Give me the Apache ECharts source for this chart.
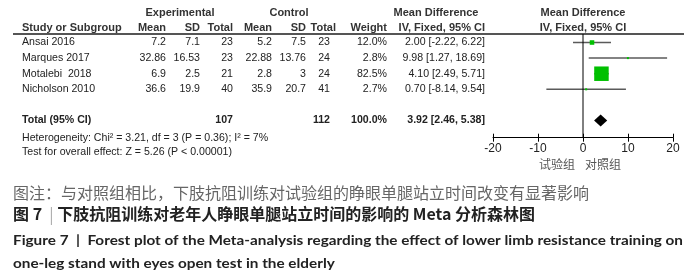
<!DOCTYPE html>
<html>
<head>
<meta charset="utf-8">
<script src="https://cdn.jsdelivr.net/npm/echarts@6/dist/echarts.min.js"></script>
<style>
  html, body { margin: 0; padding: 0; background: #fff; }
  #chart { width: 700px; height: 280px; }
</style>
</head>
<body>
<div id="chart"></div>
<script>
// study data
const studies = ['Ansai 2016', 'Marques 2017', 'Motalebi  2018', 'Nicholson 2010'];
const expMean = [7.2, 32.86, 6.9, 36.6];
const expSD = [7.1, 16.53, 2.5, 19.9];
const expN = [23, 23, 21, 40];
const ctlMean = [5.2, 22.88, 2.8, 35.9];
const ctlSD = [7.5, 13.76, 3, 20.7];
const ctlN = [23, 24, 24, 41];
const weights = [12.0, 2.8, 82.5, 2.7];
const md = [2.00, 9.98, 4.10, 0.70];
const ciLow = [-2.22, 1.27, 2.49, -8.14];
const ciHigh = [6.22, 18.69, 5.71, 9.54];

// pooled result
const totalN = [107, 112];
const totalWeight = 100.0;
const totalMD = [3.92, 2.46, 5.38];
const heteroText = 'Heterogeneity: Chi² = 3.21, df = 3 (P = 0.36); I² = 7%';
const effectText = 'Test for overall effect: Z = 5.26 (P < 0.00001)';

const xTicks = [-20, -10, 0, 10, 20];
const sideLabels = ['试验组', '对照组'];

const TOTAL_ROW = 5;
const Y_MIN = -0.545, Y_MAX = 6.1;

// column anchors (right aligned unless noted)
const COL = { name: 22, eM: 166, eSD: 200, eN: 233, cM: 272, cSD: 306, cN: 330, w: 387, ci: 485 };
const TXT = '10.6px "Liberation Sans", Arial, sans-serif';
const TXTB = 'bold 10.6px "Liberation Sans", Arial, sans-serif';
const HEADB = 'bold 11px "Liberation Sans", Arial, sans-serif';

function cell(text, x, y, align, font, fill) {
  return {
    type: 'text', x: x, y: y,
    style: { text: String(text), font: font || TXT, fill: fill || '#222', align: align || 'right', verticalAlign: 'middle' }
  };
}

function fmtCI(m, lo, hi) {
  return m.toFixed(2) + ' [' + lo.toFixed(2) + ', ' + hi.toFixed(2) + ']';
}

const studyData = studies.map((s, i) => [md[i], i, ciLow[i], ciHigh[i], weights[i]]);

function renderStudy(params, api) {
  const i = params.dataIndex;
  const c = api.coord([api.value(0), api.value(1)]);
  const lo = api.coord([api.value(2), api.value(1)]);
  const hi = api.coord([api.value(3), api.value(1)]);
  const y = c[1];
  const s = Math.max(2, 14.5 * Math.pow(api.value(4) / 82.5, 0.6));
  return {
    type: 'group',
    children: [
      { type: 'line', shape: { x1: lo[0], y1: y, x2: hi[0], y2: y }, style: { stroke: '#5a5a5a', lineWidth: 1.5 } },
      { type: 'rect', shape: { x: c[0] - s / 2, y: y - s / 2, width: s, height: s }, style: { fill: '#00c000' } },
      cell(studies[i], COL.name, y, 'left'),
      cell(expMean[i], COL.eM, y),
      cell(expSD[i], COL.eSD, y),
      cell(expN[i], COL.eN, y),
      cell(ctlMean[i], COL.cM, y),
      cell(ctlSD[i], COL.cSD, y),
      cell(ctlN[i], COL.cN, y),
      cell(weights[i].toFixed(1) + '%', COL.w, y),
      cell(fmtCI(md[i], ciLow[i], ciHigh[i]), COL.ci, y)
    ]
  };
}

function renderTotal(params, api) {
  const c = api.coord([api.value(0), api.value(1)]);
  const lo = api.coord([api.value(2), api.value(1)]);
  const hi = api.coord([api.value(3), api.value(1)]);
  const y = c[1];
  const h = 6;
  return {
    type: 'group',
    children: [
      { type: 'polygon', shape: { points: [[lo[0], y], [c[0], y - h], [hi[0], y], [c[0], y + h]] }, style: { fill: '#000' } },
      cell('Total (95% CI)', COL.name, y, 'left', TXTB),
      cell(totalN[0], COL.eN, y, 'right', TXTB),
      cell(totalN[1], COL.cN, y, 'right', TXTB),
      cell(totalWeight.toFixed(1) + '%', COL.w, y, 'right', TXTB),
      cell(fmtCI(totalMD[0], totalMD[1], totalMD[2]), COL.ci, y, 'right', TXTB),
      cell(heteroText, COL.name, y + 18, 'left'),
      cell(effectText, COL.name, y + 32, 'left')
    ]
  };
}

function head(text, x, y, align) {
  return { type: 'text', x: x, y: y, style: { text: text, font: HEADB, fill: '#333', align: align, verticalAlign: 'middle' } };
}

// fit a caption line to the width it takes in the reference
const measureCtx = document.createElement('canvas').getContext('2d');
function fitScale(text, font, width) {
  measureCtx.font = font;
  return width / measureCtx.measureText(text).width;
}
const CAP_FONT = 'bold 14px Lato, "Open Sans", sans-serif';
const cap3 = 'Figure 7  |  Forest plot of the Meta-analysis regarding the effect of lower limb resistance training on';
const cap4 = 'one-leg stand with eyes open test in the elderly';
const capScale = fitScale(cap3, CAP_FONT, 670);

const chart = echarts.init(document.getElementById('chart'), null, { renderer: 'canvas' });

chart.setOption({
  animation: false,
  grid: { left: 493, right: 27, top: 34, height: 103.7 },
  xAxis: [
    {
      type: 'value', min: xTicks[0], max: xTicks[xTicks.length - 1], interval: 10,
      axisLine: { show: true, onZero: false, lineStyle: { color: '#000', width: 1 } },
      axisTick: { show: true, length: 4, lineStyle: { color: '#000' } },
      axisLabel: { fontSize: 12, color: '#222', margin: 5, fontFamily: '"Liberation Sans", Arial, sans-serif' },
      splitLine: { show: false }
    },
    {
      type: 'value', position: 'bottom', min: xTicks[0], max: xTicks[xTicks.length - 1], interval: 10,
      axisLine: { show: false, onZero: false },
      axisTick: { show: true, inside: true, length: 4, lineStyle: { color: '#000' } },
      axisLabel: { show: false },
      splitLine: { show: false }
    }
  ],
  yAxis: { type: 'value', inverse: true, min: Y_MIN, max: Y_MAX, show: false },
  series: [
    {
      type: 'line', data: [[0, Y_MIN], [0, Y_MAX]], symbol: 'none',
      lineStyle: { color: '#000', width: 1 }, silent: true
    },
    { type: 'custom', data: studyData, renderItem: renderStudy, clip: false, silent: true },
    { type: 'custom', data: [[totalMD[0], TOTAL_ROW, totalMD[1], totalMD[2]]], renderItem: renderTotal, clip: false, silent: true }
  ],
  graphic: [
    head('Experimental', 180, 13, 'center'),
    head('Control', 289, 13, 'center'),
    head('Mean Difference', 436, 13, 'center'),
    head('Mean Difference', 583, 13, 'center'),
    head('Study or Subgroup', COL.name, 28, 'left'),
    head('Mean', COL.eM, 28, 'right'),
    head('SD', COL.eSD, 28, 'right'),
    head('Total', COL.eN, 28, 'right'),
    head('Mean', COL.cM, 28, 'right'),
    head('SD', COL.cSD, 28, 'right'),
    head('Total', COL.cN + 6, 28, 'right'),
    head('Weight', COL.w, 28, 'right'),
    head('IV, Fixed, 95% CI', COL.ci, 28, 'right'),
    head('IV, Fixed, 95% CI', 583, 28, 'center'),
    { type: 'line', shape: { x1: 13, y1: 34, x2: 684, y2: 34 }, style: { stroke: '#555', lineWidth: 2 } },
    { type: 'text', x: 557, y: 164, style: { text: sideLabels[0], font: '12px "Noto Sans CJK SC"', fill: '#555', align: 'center', verticalAlign: 'middle' } },
    { type: 'text', x: 603, y: 164, style: { text: sideLabels[1], font: '12px "Noto Sans CJK SC"', fill: '#555', align: 'center', verticalAlign: 'middle' } },
    {
      type: 'text', x: 13, y: 193,
      style: { text: '图注：与对照组相比，下肢抗阻训练对试验组的睁眼单腿站立时间改变有显著影响', font: '16px "Noto Sans CJK SC"', fill: '#666', verticalAlign: 'middle' }
    },
    {
      type: 'text', x: 13, y: 214,
      style: {
        text: '{a|图 7 }{bar| | }{a|下肢抗阻训练对老年人睁眼单腿站立时间的影响的 Meta 分析森林图}',
        verticalAlign: 'middle',
        rich: {
          a: { fontFamily: '"Noto Sans CJK SC"', fontSize: 16, fontWeight: 'bold', fill: '#222' },
          bar: { fontFamily: '"Noto Sans CJK SC"', fontSize: 16, fill: '#aaa' }
        }
      }
    },
    {
      type: 'text', x: 13, y: 240, scaleX: capScale,
      style: { text: cap3, font: CAP_FONT, fill: '#222', verticalAlign: 'middle' }
    },
    {
      type: 'text', x: 13, y: 263, scaleX: capScale,
      style: { text: cap4, font: CAP_FONT, fill: '#222', verticalAlign: 'middle' }
    }
  ]
});
</script>
</body>
</html>
